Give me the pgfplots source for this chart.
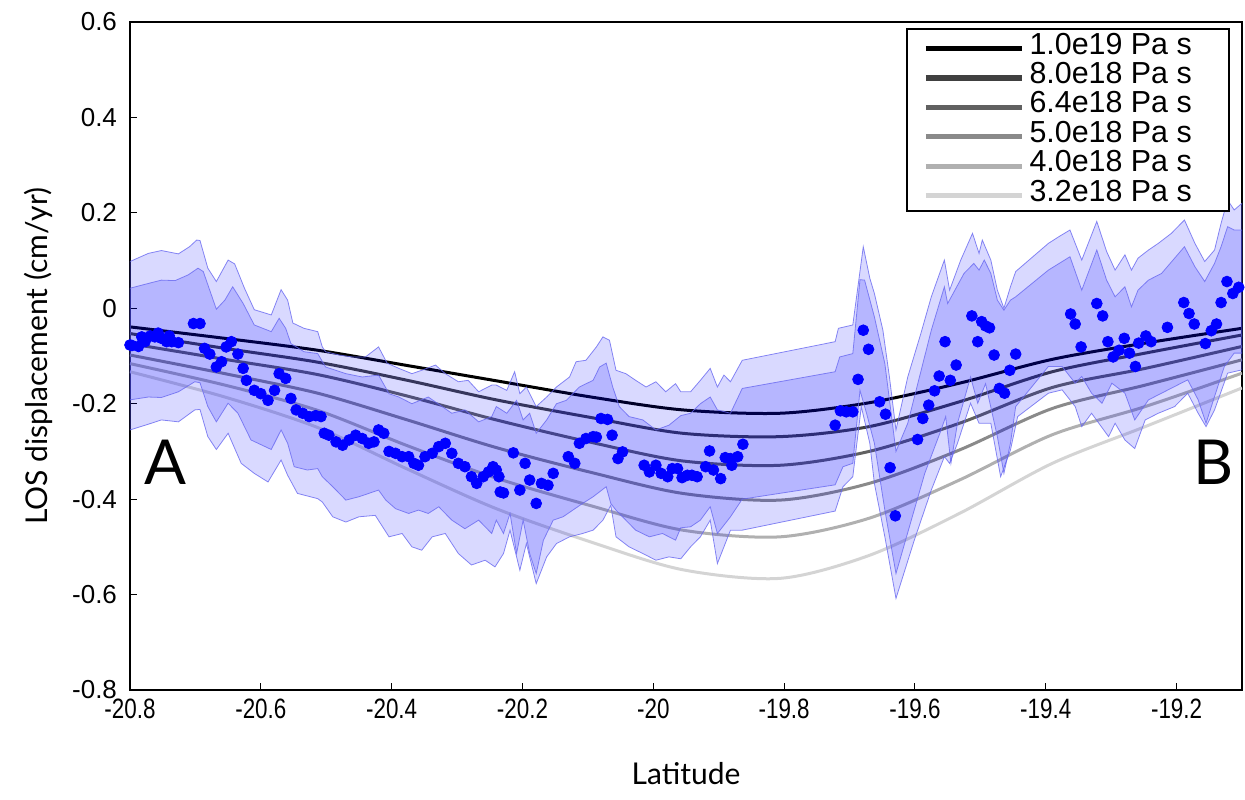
\documentclass[border=0pt]{standalone}
\usepackage{fontspec}
\usepackage{pgfplots}
\pgfplotsset{compat=1.18}
\setmainfont{Liberation Sans}
\newfontfamily\labfont{Lato}
\newfontfamily\tickfam{Liberation Sans}
\newfontfamily\tickcond[FakeStretch=0.8]{Liberation Sans}
\newcommand\tickfont{\tickfam\fontsize{13bp}{15bp}\selectfont}
\newcommand\xtickfont{\tickcond\fontsize{14bp}{16bp}\selectfont}
\newcommand\legfont{\tickfam\fontsize{15.2bp}{17bp}\selectfont}
\definecolor{cA}{gray}{0.0}
\definecolor{cB}{gray}{0.25}
\definecolor{cC}{gray}{0.38}
\definecolor{cD}{gray}{0.54}
\definecolor{cE}{gray}{0.69}
\definecolor{cF}{gray}{0.83}
\definecolor{bandedge}{RGB}{105,105,240}
\begin{document}
\begin{tikzpicture}
\useasboundingbox (-65bp,-55bp) rectangle (557.5bp,345bp);
\begin{axis}[
  at={(0,0)}, anchor=south west,
  scale only axis, width=556bp, height=334bp,
  xmin=-20.8, xmax=-19.1, ymin=-0.8, ymax=0.6,
  xtick={-20.8,-20.6,-20.4,-20.2,-20,-19.8,-19.6,-19.4,-19.2},
  ytick={-0.8,-0.6,-0.4,-0.2,0,0.2,0.4,0.6},
  tick align=inside, xtick pos=bottom, ytick pos=left,
  major tick length=3.5bp,
  axis line style={line width=1bp},
  tick style={line width=0.5bp, black},
  /pgf/number format/assume math mode=true,
  yticklabel style={font=\tickfont, xshift=-3bp},
  xticklabel style={font=\xtickfont, yshift=-1bp},
  xlabel={Latitude}, ylabel={LOS displacement (cm/yr)},
  label style={font=\labfont\fontsize{15bp}{18bp}\selectfont},
  xlabel style={yshift=-15bp},
  ylabel style={yshift=3bp},
  legend cell align=left,
  legend style={at={(rel axis cs:0.989,0.991)}, anchor=north east,
    draw=black, line width=1bp, font=\legfont,
    inner xsep=8bp, inner ysep=2bp,
    nodes={inner sep=0.6bp, text height=10bp, text depth=2.5bp},
    row sep=1bp},
  legend image code/.code={\draw[line width=2.6bp] (0bp,-1bp) -- (48bp,-1bp);},
]
% model curves
\addplot[cA, line width=1.5bp, smooth] coordinates {(-20.8,-0.039) (-20.655,-0.063) (-20.513,-0.088) (-20.376,-0.120) (-20.24,-0.152) (-20.095,-0.186) (-19.955,-0.213) (-19.806,-0.220) (-19.67,-0.198) (-19.532,-0.157) (-19.39,-0.107) (-19.248,-0.073) (-19.1,-0.042)};
\addlegendentry{\makebox[93bp][l]{\hspace{2bp}1.0e19 Pa s}}
\addplot[cB, line width=1.5bp, smooth] coordinates {(-20.8,-0.053) (-20.655,-0.084) (-20.513,-0.113) (-20.376,-0.151) (-20.24,-0.192) (-20.095,-0.229) (-19.955,-0.262) (-19.806,-0.269) (-19.67,-0.248) (-19.532,-0.196) (-19.39,-0.133) (-19.248,-0.094) (-19.1,-0.056)};
\addlegendentry{\makebox[93bp][l]{\hspace{2bp}8.0e18 Pa s}}
\addplot[cC, line width=1.5bp, smooth] coordinates {(-20.8,-0.074) (-20.655,-0.107) (-20.513,-0.139) (-20.376,-0.184) (-20.24,-0.234) (-20.095,-0.281) (-19.955,-0.320) (-19.806,-0.329) (-19.67,-0.300) (-19.532,-0.241) (-19.39,-0.166) (-19.248,-0.126) (-19.1,-0.080)};
\addlegendentry{\makebox[93bp][l]{\hspace{2bp}6.4e18 Pa s}}
\addplot[cD, line width=1.5bp, smooth] coordinates {(-20.8,-0.098) (-20.655,-0.137) (-20.513,-0.178) (-20.376,-0.234) (-20.24,-0.292) (-20.095,-0.344) (-19.955,-0.388) (-19.806,-0.402) (-19.67,-0.367) (-19.532,-0.297) (-19.39,-0.210) (-19.248,-0.161) (-19.1,-0.108)};
\addlegendentry{\makebox[93bp][l]{\hspace{2bp}5.0e18 Pa s}}
\addplot[cE, line width=1.5bp, smooth] coordinates {(-20.8,-0.116) (-20.655,-0.161) (-20.513,-0.214) (-20.376,-0.288) (-20.24,-0.356) (-20.095,-0.414) (-19.955,-0.465) (-19.806,-0.479) (-19.67,-0.440) (-19.532,-0.360) (-19.39,-0.265) (-19.248,-0.206) (-19.1,-0.136)};
\addlegendentry{\makebox[93bp][l]{\hspace{2bp}4.0e18 Pa s}}
\addplot[cF, line width=1.5bp, smooth] coordinates {(-20.8,-0.133) (-20.655,-0.186) (-20.513,-0.250) (-20.376,-0.337) (-20.24,-0.420) (-20.095,-0.490) (-19.955,-0.548) (-19.806,-0.566) (-19.67,-0.518) (-19.532,-0.430) (-19.39,-0.325) (-19.248,-0.248) (-19.1,-0.167)};
\addlegendentry{\makebox[93bp][l]{\hspace{2bp}3.2e18 Pa s}}
% outer band: upper edge then lower edge reversed
\addplot[forget plot, fill=blue, fill opacity=0.15, draw=bandedge, draw opacity=0.8, line width=0.4bp] coordinates {
(-20.800,0.098) (-20.772,0.115) (-20.752,0.121) (-20.726,0.114) (-20.709,0.129) (-20.698,0.143) (-20.693,0.142) (-20.681,0.084) (-20.668,0.056) (-20.650,0.101) (-20.640,0.093) (-20.625,0.042) (-20.610,-0.003) (-20.584,-0.014) (-20.569,0.039) (-20.559,0.017) (-20.551,-0.031) (-20.534,-0.042) (-20.513,-0.049) (-20.506,-0.081) (-20.501,-0.091) (-20.480,-0.098) (-20.460,-0.102) (-20.440,-0.102) (-20.420,-0.081) (-20.407,-0.115) (-20.389,-0.126) (-20.369,-0.137) (-20.354,-0.130) (-20.333,-0.119) (-20.318,-0.137) (-20.298,-0.154) (-20.283,-0.151) (-20.267,-0.175) (-20.247,-0.161) (-20.240,-0.161) (-20.224,-0.172) (-20.212,-0.133) (-20.204,-0.179) (-20.194,-0.165) (-20.179,-0.206) (-20.163,-0.186) (-20.148,-0.165) (-20.128,-0.144) (-20.118,-0.112) (-20.103,-0.109) (-20.087,-0.081) (-20.077,-0.060) (-20.067,-0.067) (-20.057,-0.130) (-20.042,-0.137) (-20.027,-0.151) (-20.011,-0.165) (-19.996,-0.154) (-19.981,-0.175) (-19.966,-0.158) (-19.958,-0.175) (-19.943,-0.175) (-19.928,-0.151) (-19.913,-0.126) (-19.902,-0.165) (-19.892,-0.140) (-19.882,-0.154) (-19.864,-0.109) (-19.722,-0.070) (-19.717,-0.042) (-19.695,-0.035) (-19.679,0.129) (-19.669,0.063) (-19.662,0.031) (-19.649,-0.046) (-19.639,-0.144) (-19.629,-0.255) (-19.611,-0.144) (-19.591,-0.053) (-19.575,0.024) (-19.555,0.101) (-19.547,0.038) (-19.530,0.101) (-19.512,0.157) (-19.502,0.115) (-19.497,0.143) (-19.484,0.101) (-19.474,0.038) (-19.464,0.000) (-19.454,0.045) (-19.446,0.077) (-19.396,0.136) (-19.380,0.150) (-19.363,0.164) (-19.345,0.101) (-19.322,0.182) (-19.307,0.119) (-19.294,0.080) (-19.279,0.112) (-19.269,0.080) (-19.259,0.105) (-19.243,0.122) (-19.228,0.136) (-19.208,0.157) (-19.188,0.185) (-19.172,0.136) (-19.157,0.098) (-19.142,0.122) (-19.132,0.178) (-19.122,0.227) (-19.112,0.206) (-19.100,0.220)
(-19.100,-0.129) (-19.122,-0.136) (-19.142,-0.213) (-19.155,-0.248) (-19.167,-0.220) (-19.183,-0.178) (-19.203,-0.206) (-19.228,-0.220) (-19.248,-0.234) (-19.264,-0.294) (-19.279,-0.276) (-19.294,-0.241) (-19.304,-0.269) (-19.330,-0.220) (-19.345,-0.248) (-19.355,-0.206) (-19.375,-0.171) (-19.396,-0.178) (-19.443,-0.227) (-19.454,-0.297) (-19.469,-0.353) (-19.484,-0.241) (-19.502,-0.241) (-19.515,-0.199) (-19.535,-0.283) (-19.547,-0.325) (-19.555,-0.311) (-19.575,-0.381) (-19.601,-0.486) (-19.629,-0.608) (-19.646,-0.479) (-19.662,-0.367) (-19.669,-0.283) (-19.682,-0.206) (-19.695,-0.353) (-19.710,-0.374) (-19.722,-0.425) (-19.864,-0.465) (-19.882,-0.465) (-19.902,-0.535) (-19.913,-0.444) (-19.928,-0.479) (-19.943,-0.500) (-19.958,-0.525) (-19.976,-0.521) (-19.996,-0.528) (-20.016,-0.514) (-20.037,-0.500) (-20.057,-0.479) (-20.065,-0.413) (-20.077,-0.444) (-20.092,-0.465) (-20.108,-0.472) (-20.128,-0.479) (-20.148,-0.493) (-20.163,-0.521) (-20.179,-0.577) (-20.194,-0.493) (-20.204,-0.549) (-20.219,-0.465) (-20.229,-0.514) (-20.242,-0.542) (-20.257,-0.528) (-20.278,-0.538) (-20.298,-0.514) (-20.318,-0.472) (-20.338,-0.479) (-20.354,-0.507) (-20.369,-0.500) (-20.384,-0.472) (-20.404,-0.479) (-20.425,-0.434) (-20.450,-0.437) (-20.470,-0.448) (-20.490,-0.437) (-20.506,-0.406) (-20.513,-0.399) (-20.544,-0.388) (-20.559,-0.350) (-20.569,-0.318) (-20.589,-0.364) (-20.610,-0.346) (-20.630,-0.325) (-20.650,-0.262) (-20.668,-0.296) (-20.681,-0.269) (-20.693,-0.212) (-20.701,-0.213) (-20.726,-0.238) (-20.752,-0.234) (-20.772,-0.243) (-20.800,-0.255)
} -- cycle;
% inner band
\addplot[forget plot, fill=blue, fill opacity=0.16, draw=bandedge, draw opacity=0.8, line width=0.4bp] coordinates {
(-20.800,0.042) (-20.772,0.052) (-20.752,0.059) (-20.731,0.058) (-20.711,0.070) (-20.696,0.084) (-20.688,0.077) (-20.668,-0.002) (-20.655,0.017) (-20.643,0.045) (-20.627,0.010) (-20.610,-0.035) (-20.584,-0.049) (-20.572,-0.021) (-20.562,-0.042) (-20.554,-0.074) (-20.534,-0.091) (-20.513,-0.095) (-20.501,-0.123) (-20.470,-0.137) (-20.445,-0.144) (-20.420,-0.140) (-20.404,-0.179) (-20.389,-0.186) (-20.369,-0.200) (-20.344,-0.186) (-20.308,-0.220) (-20.288,-0.213) (-20.267,-0.238) (-20.247,-0.227) (-20.240,-0.206) (-20.224,-0.220) (-20.209,-0.193) (-20.199,-0.234) (-20.189,-0.220) (-20.179,-0.262) (-20.163,-0.234) (-20.148,-0.200) (-20.133,-0.193) (-20.113,-0.165) (-20.092,-0.151) (-20.082,-0.123) (-20.072,-0.115) (-20.062,-0.165) (-20.052,-0.206) (-20.037,-0.227) (-20.016,-0.234) (-19.996,-0.255) (-19.976,-0.245) (-19.958,-0.225) (-19.943,-0.220) (-19.928,-0.200) (-19.913,-0.186) (-19.902,-0.213) (-19.882,-0.220) (-19.864,-0.168) (-19.722,-0.133) (-19.715,-0.102) (-19.695,-0.095) (-19.684,0.060) (-19.677,0.059) (-19.662,-0.018) (-19.646,-0.116) (-19.629,-0.300) (-19.611,-0.241) (-19.575,-0.046) (-19.555,0.045) (-19.550,0.010) (-19.525,0.073) (-19.510,0.094) (-19.502,0.080) (-19.494,0.101) (-19.484,0.073) (-19.474,0.017) (-19.464,-0.004) (-19.454,0.017) (-19.446,0.024) (-19.396,0.080) (-19.363,0.108) (-19.345,0.038) (-19.322,0.122) (-19.307,0.059) (-19.294,0.024) (-19.279,0.045) (-19.269,0.003) (-19.259,0.038) (-19.243,0.059) (-19.223,0.073) (-19.188,0.129) (-19.172,0.087) (-19.157,0.056) (-19.142,0.094) (-19.132,0.129) (-19.122,0.171) (-19.112,0.164) (-19.100,0.164)
(-19.100,-0.094) (-19.112,-0.094) (-19.127,-0.122) (-19.142,-0.185) (-19.155,-0.241) (-19.167,-0.192) (-19.183,-0.150) (-19.203,-0.164) (-19.223,-0.178) (-19.243,-0.192) (-19.264,-0.234) (-19.279,-0.178) (-19.299,-0.157) (-19.314,-0.199) (-19.330,-0.178) (-19.345,-0.143) (-19.355,-0.157) (-19.375,-0.122) (-19.396,-0.122) (-19.446,-0.206) (-19.454,-0.283) (-19.464,-0.346) (-19.474,-0.269) (-19.492,-0.158) (-19.504,-0.199) (-19.515,-0.144) (-19.535,-0.241) (-19.545,-0.325) (-19.553,-0.227) (-19.560,-0.255) (-19.585,-0.346) (-19.611,-0.470) (-19.629,-0.556) (-19.646,-0.423) (-19.662,-0.283) (-19.674,-0.220) (-19.684,-0.172) (-19.695,-0.325) (-19.710,-0.332) (-19.722,-0.370) (-19.864,-0.400) (-19.882,-0.437) (-19.902,-0.472) (-19.913,-0.416) (-19.928,-0.444) (-19.943,-0.458) (-19.958,-0.460) (-19.966,-0.486) (-19.986,-0.472) (-20.006,-0.479) (-20.027,-0.465) (-20.042,-0.444) (-20.057,-0.423) (-20.065,-0.409) (-20.072,-0.374) (-20.092,-0.395) (-20.108,-0.409) (-20.123,-0.423) (-20.138,-0.437) (-20.153,-0.444) (-20.168,-0.486) (-20.179,-0.556) (-20.189,-0.514) (-20.199,-0.444) (-20.209,-0.514) (-20.219,-0.430) (-20.229,-0.472) (-20.240,-0.444) (-20.247,-0.472) (-20.267,-0.444) (-20.288,-0.462) (-20.308,-0.444) (-20.328,-0.416) (-20.344,-0.430) (-20.359,-0.423) (-20.374,-0.430) (-20.394,-0.420) (-20.409,-0.402) (-20.420,-0.381) (-20.450,-0.395) (-20.470,-0.402) (-20.490,-0.374) (-20.506,-0.353) (-20.513,-0.336) (-20.529,-0.339) (-20.549,-0.332) (-20.559,-0.283) (-20.569,-0.255) (-20.584,-0.296) (-20.615,-0.276) (-20.635,-0.220) (-20.650,-0.199) (-20.668,-0.238) (-20.681,-0.206) (-20.693,-0.156) (-20.701,-0.154) (-20.726,-0.175) (-20.752,-0.187) (-20.772,-0.186) (-20.800,-0.192)
} -- cycle;
% observed data
\addplot[forget plot, only marks, mark=*, mark size=2.7bp, blue, mark options={draw=blue, fill=blue}] coordinates {
(-20.800,-0.077) (-20.797,-0.078) (-20.787,-0.080) (-20.782,-0.060) (-20.777,-0.070) (-20.769,-0.058) (-20.762,-0.060) (-20.757,-0.052) (-20.752,-0.063) (-20.744,-0.070) (-20.740,-0.058) (-20.736,-0.070) (-20.726,-0.072) (-20.703,-0.032) (-20.693,-0.032) (-20.686,-0.084) (-20.678,-0.096) (-20.668,-0.123) (-20.660,-0.112) (-20.653,-0.081) (-20.645,-0.070) (-20.635,-0.096) (-20.627,-0.126) (-20.622,-0.151) (-20.610,-0.172) (-20.600,-0.179) (-20.589,-0.193) (-20.579,-0.172) (-20.572,-0.137) (-20.562,-0.147) (-20.554,-0.189) (-20.546,-0.213) (-20.536,-0.220) (-20.526,-0.227) (-20.516,-0.225) (-20.508,-0.227) (-20.503,-0.262) (-20.496,-0.266) (-20.485,-0.280) (-20.475,-0.287) (-20.465,-0.276) (-20.455,-0.266) (-20.445,-0.273) (-20.435,-0.283) (-20.427,-0.280) (-20.420,-0.255) (-20.412,-0.262) (-20.404,-0.300) (-20.394,-0.304) (-20.384,-0.311) (-20.374,-0.311) (-20.366,-0.325) (-20.359,-0.329) (-20.349,-0.311) (-20.338,-0.304) (-20.328,-0.290) (-20.318,-0.283) (-20.308,-0.304) (-20.298,-0.325) (-20.288,-0.332) (-20.278,-0.353) (-20.270,-0.367) (-20.260,-0.353) (-20.252,-0.343) (-20.245,-0.332) (-20.240,-0.339) (-20.236,-0.353) (-20.234,-0.385) (-20.229,-0.387) (-20.214,-0.303) (-20.204,-0.381) (-20.196,-0.325) (-20.189,-0.360) (-20.179,-0.409) (-20.171,-0.367) (-20.161,-0.371) (-20.153,-0.346) (-20.130,-0.311) (-20.120,-0.325) (-20.113,-0.283) (-20.103,-0.273) (-20.092,-0.269) (-20.087,-0.270) (-20.080,-0.231) (-20.070,-0.233) (-20.063,-0.266) (-20.054,-0.315) (-20.047,-0.301) (-20.014,-0.329) (-20.006,-0.343) (-19.996,-0.329) (-19.988,-0.346) (-19.978,-0.353) (-19.971,-0.336) (-19.963,-0.336) (-19.956,-0.355) (-19.948,-0.350) (-19.941,-0.350) (-19.933,-0.353) (-19.920,-0.332) (-19.914,-0.299) (-19.908,-0.339) (-19.897,-0.357) (-19.890,-0.313) (-19.882,-0.315) (-19.880,-0.329) (-19.871,-0.311) (-19.863,-0.285)
(-19.722,-0.245) (-19.714,-0.215) (-19.705,-0.217) (-19.695,-0.217) (-19.687,-0.149) (-19.679,-0.046) (-19.671,-0.086) (-19.654,-0.196) (-19.645,-0.222) (-19.638,-0.334) (-19.630,-0.435) (-19.596,-0.275) (-19.588,-0.231) (-19.579,-0.203) (-19.570,-0.173) (-19.563,-0.142) (-19.554,-0.070) (-19.546,-0.151) (-19.537,-0.119) (-19.513,-0.016) (-19.504,-0.070) (-19.498,-0.028) (-19.492,-0.037) (-19.486,-0.041) (-19.479,-0.098) (-19.471,-0.168) (-19.463,-0.178) (-19.455,-0.130) (-19.446,-0.096) (-19.362,-0.012) (-19.355,-0.033) (-19.346,-0.081) (-19.322,0.010) (-19.313,-0.016) (-19.305,-0.070) (-19.297,-0.102) (-19.288,-0.088) (-19.280,-0.063) (-19.272,-0.094) (-19.263,-0.122) (-19.258,-0.073) (-19.247,-0.058) (-19.239,-0.070) (-19.214,-0.040) (-19.189,0.012) (-19.181,-0.011) (-19.173,-0.033) (-19.156,-0.074) (-19.147,-0.047) (-19.139,-0.033) (-19.132,0.012) (-19.123,0.056) (-19.114,0.031) (-19.105,0.044)
};
\node[font=\labfont\fontsize{31bp}{34bp}\selectfont] at (axis cs:-20.746,-0.322) {A};
\node[font=\labfont\fontsize{31bp}{34bp}\selectfont] at (axis cs:-19.144,-0.322) {B};
\end{axis}
\end{tikzpicture}
\end{document}
